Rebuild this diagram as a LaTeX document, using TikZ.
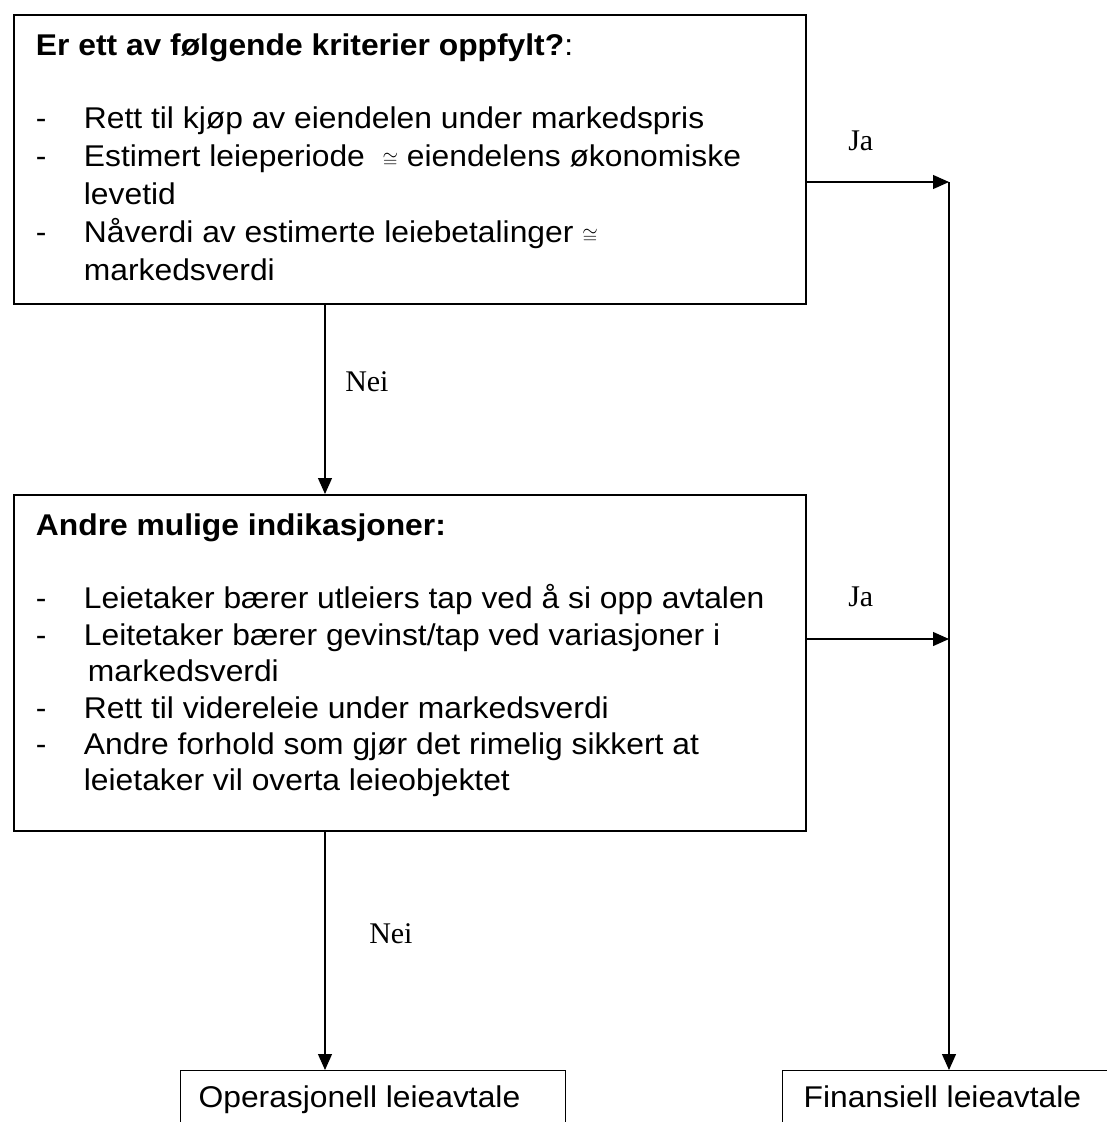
\documentclass[tikz,border=0pt]{standalone}
\usepackage{fontspec}
\usepackage{graphicx}
\setmainfont{Liberation Sans}[FakeStretch=1.06]
\newfontfamily\etikettfont{Liberation Serif}
\usetikzlibrary{arrows.meta}
\newlength\px
\setlength\px{0.75pt}
\newcommand{\strek}{\makebox[48\px][l]{-}}
\newcommand{\innrykk}{\hspace*{48\px}}
\newcommand{\omtrent}{\scalebox{0.72}{$\cong$}}
% #1 height, #2 width, #3 left pad, #4 first baseline, #5 baselineskip, #6 text
\newcommand{\boksinnhold}[6]{%
  \begin{minipage}[t][#1\px][t]{#2\px}
  \vspace*{0pt}%
  \fontsize{22.5pt}{#5}\selectfont
  \setlength\parindent{0pt}\setlength\leftskip{#3\px}%
  \rule{0pt}{#4\px}#6
  \end{minipage}}

\tikzset{
  boks/.style={draw, line width=1.4pt, inner sep=0pt, anchor=north west},
  sluttboks/.style={draw, line width=0.9pt, inner sep=0pt, anchor=north west},
  pil/.style={line width=0.9pt, -{Triangle[length=12pt,width=10.5pt]}},
  etikett/.style={font=\etikettfont\fontsize{22.5pt}{27pt}\selectfont, anchor=base west, inner sep=0pt},
}

\begin{document}
\begin{tikzpicture}[x=0.75pt, y=-0.75pt]
	%%%%% START %%%%%
	\useasboundingbox (0,0) rectangle (1107,1122);
	\clip (0,0) rectangle (1107,1122);
	
	\node[boks] (krit) at (13,14) {\boksinnhold{289}{792}{22}{41}{28.5pt}{%
		\textbf{Er ett av følgende kriterier oppfylt?}:\\[35\px]
		\strek Rett til kjøp av eiendelen under markedspris\\
		\strek Estimert leieperiode \ \omtrent\ eiendelens økonomiske\\
		\innrykk levetid\\
		\strek Nåverdi av estimerte leiebetalinger \omtrent\\
		\innrykk markedsverdi}};
	
	\node[boks] (indik) at (13,494) {\boksinnhold{336}{792}{22}{41}{27.3pt}{%
		\textbf{Andre mulige indikasjoner:}\\[36.6\px]
		\strek Leietaker bærer utleiers tap ved å si opp avtalen\\
		\strek Leitetaker bærer gevinst/tap ved variasjoner i\\
		\innrykk\hspace*{4\px}markedsverdi\\
		\strek Rett til videreleie under markedsverdi\\
		\strek Andre forhold som gjør det rimelig sikkert at\\
		\innrykk leietaker vil overta leieobjektet}};
	
	\node[sluttboks] (opr) at (180,1070) {\boksinnhold{70}{385}{18}{37}{27pt}{Operasjonell leieavtale}};
	\node[sluttboks] (fin) at (782,1070) {\boksinnhold{70}{360}{21}{37}{27pt}{Finansiell leieavtale}};
	
	\coordinate (neiakse) at (325,0);
	\coordinate (ja1) at (949,182);
	\coordinate (ja2) at (949,639);
	
	\draw[pil] (krit.south -| neiakse) -- (indik.north -| neiakse);
	\draw[pil] (indik.south -| neiakse) -- (opr.north -| neiakse);
	\draw[pil] (krit.east |- ja1) -- (ja1);
	\draw[pil] (indik.east |- ja2) -- (ja2);
	\draw[pil] (ja1) -- (fin.north -| ja1);
	
	\node[etikett] (nei1) at (345,391) {Nei};
	\node[etikett] (nei2) at (369,943) {Nei};
	\node[etikett] (jaA) at (848,150) {Ja};
	\node[etikett] (jaB) at (848,606) {Ja};
	%%%%% END %%%%%
\end{tikzpicture}
\end{document}
